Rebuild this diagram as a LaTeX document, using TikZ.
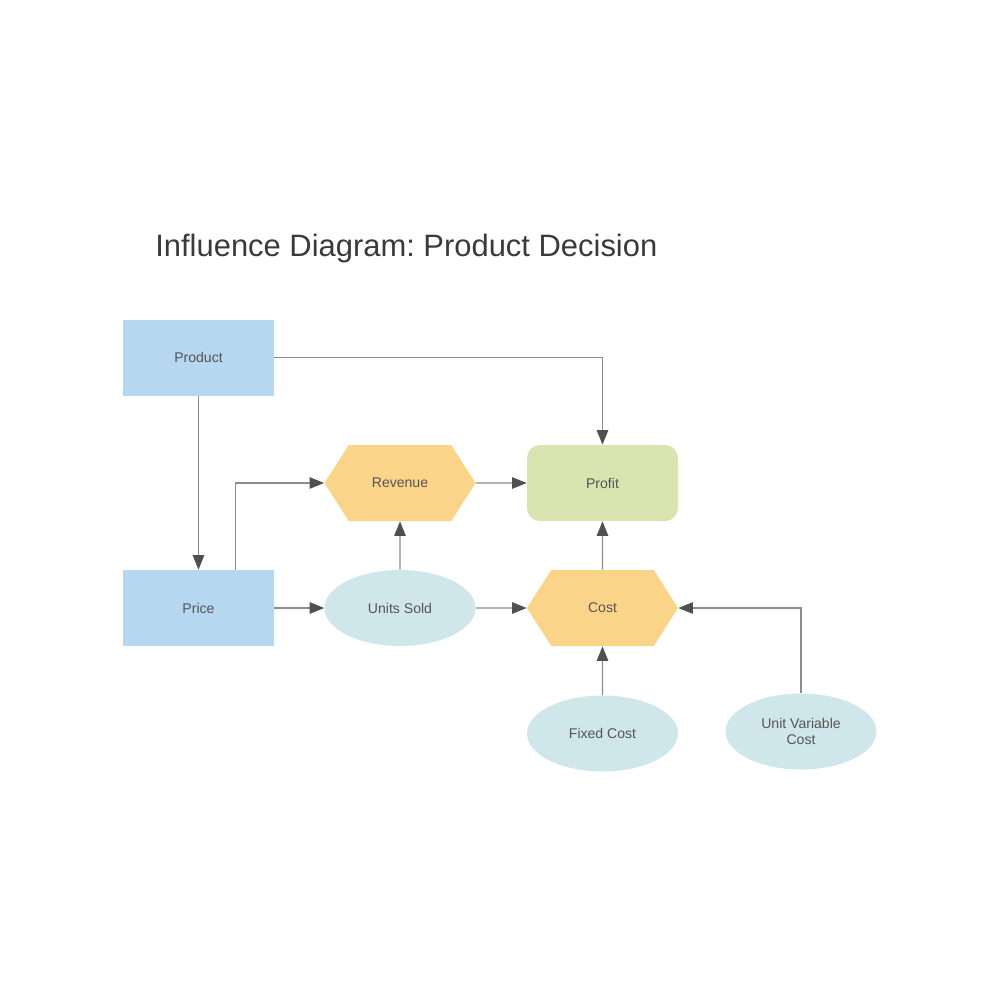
\documentclass[tikz,border=0pt]{standalone}
\usepackage{fontspec}
\setmainfont{Liberation Sans}
\usetikzlibrary{arrows.meta, shapes.geometric, shapes.symbols}
\definecolor{decisionc}{HTML}{B5D7EF}
\definecolor{determc}{HTML}{FAD488}
\definecolor{objectc}{HTML}{D9E4B0}
\definecolor{chancec}{HTML}{CFE7EA}
\definecolor{textc}{HTML}{555555}
\definecolor{titlec}{HTML}{3A3A3A}
\definecolor{linec}{HTML}{8C8C8C}
\definecolor{tipc}{HTML}{505050}
\frenchspacing

\begin{document}
\begin{tikzpicture}[x=0.2mm, y=-0.2mm, font=\fontsize{8}{9.4}\selectfont,
      base/.style={text=textc, inner sep=0pt, minimum width=30.2mm, minimum height=15.2mm, align=center},
      decision/.style={base, rectangle, fill=decisionc},
      determ/.style={base, signal, signal to=east and west, signal pointer angle=115, fill=determc},
      objective/.style={base, rectangle, rounded corners=2.6mm, fill=objectc},
      chance/.style={base, ellipse, fill=chancec},
      link/.style={draw=linec, line width=0.6pt, -{Triangle[length=2.9mm, width=2.3mm, color=tipc]}}]
    \useasboundingbox (0,0) rectangle (1000,1000);
    \node[anchor=west, inner sep=0pt, text=titlec, font=\fontsize{17.6}{21}\selectfont] (title) at (155,249) {Influence Diagram: Product Decision};
    % nodes
    \node[decision] (product) at (198.5,357.5) {Product};
    \node[decision] (price) at (198.5,608) {Price};
    \node[determ] (revenue) at (400,483) {Revenue};
    \node[objective] (profit) at (602.5,483) {Profit};
    \node[chance] (units) at (400,608) {Units Sold};
    \node[determ] (cost) at (602.5,608) {Cost};
    \node[chance] (fixed) at (602.5,733.5) {Fixed Cost};
    \node[chance] (unitvar) at (801,731.5) {Unit Variable\\Cost};
    % influences
    \draw[link] (product.east) -| (profit.north);
    \draw[link] (product) -- (price);
    \draw[link] ([xshift=7.4mm]price.north) |- (revenue.west);
    \draw[link] (revenue) -- (profit);
    \draw[link] (price) -- (units);
    \draw[link] (units) -- (revenue);
    \draw[link] (units) -- (cost);
    \draw[link] (cost) -- (profit);
    \draw[link] (fixed) -- (cost);
    \draw[link] (unitvar.north) |- (cost.east);
\end{tikzpicture}
\end{document}
